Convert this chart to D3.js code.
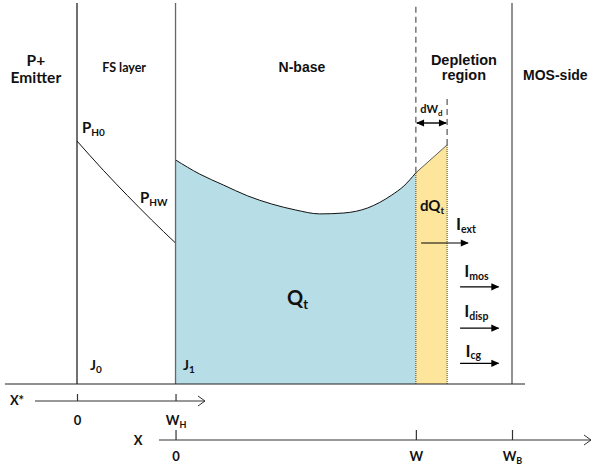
<!DOCTYPE html>
<html>
<head>
<meta charset="utf-8">
<script src="https://cdn.jsdelivr.net/npm/d3@7"></script>
<style>
  body { margin: 0; background: #fff; }
  svg { display: block; }
  text { font-weight: 700; }
</style>
</head>
<body>
<div id="chart"></div>
<script>
// hole density profile (x: position, 0 = J1, 100 = W; p: arbitrary units)
const fsX = [-41, -30, -20, -10, 0];
const fsP = [81, 71.2, 62.8, 54.7, 47];
const baseX = [0, 10, 20, 30, 40, 50, 60, 70, 80, 90, 95, 100];
const baseP = [74.7, 70, 66.3, 62.7, 60, 58, 56.7, 57, 58.7, 63, 66, 70.4];
const depX = [100, 113];
const depP = [70.4, 79.7];

// region boundaries and axis ticks
const bounds = { J0: -41, J1: 0, W: 100, Wd: 113, WB: 140 };
const xTicks = [0, 100, 140];
const xTickLabels = [["0", ""], ["W", ""], ["W", "B"]];
const xsTicks = [0, 41];
const xsTickLabels = [["0", ""], ["W", "H"]];
const currents = ["ext", "mos", "disp", "cg"];

const width = 593, height = 468;
const calibri = "Lato, 'Open Sans', sans-serif";
const arial = "'Liberation Sans', Arial, sans-serif";

const svg = d3.select("#chart").append("svg")
  .attr("width", width)
  .attr("height", height);

const x = d3.scaleLinear().domain([-41, 140]).range([77, 512]);
const y = d3.scaleLinear().domain([0, 100]).range([384, 84]);

const defs = svg.append("defs");
defs.append("marker").attr("id", "solid").attr("viewBox", "0 -5 10 10")
  .attr("refX", 9).attr("refY", 0).attr("markerWidth", 9).attr("markerHeight", 8)
  .attr("markerUnits", "userSpaceOnUse").attr("orient", "auto-start-reverse")
  .append("path").attr("d", "M0,-4.5L10,0L0,4.5Z").attr("fill", "#000");
defs.append("marker").attr("id", "open").attr("viewBox", "0 -6 8 12")
  .attr("refX", 7).attr("refY", 0).attr("markerWidth", 8).attr("markerHeight", 12)
  .attr("markerUnits", "userSpaceOnUse").attr("orient", "auto")
  .append("path").attr("d", "M0,-5L7,0L0,5").attr("fill", "none").attr("stroke", "#333").attr("stroke-width", 1);

// areas
const baseData = baseX.map((d, i) => ({ x: d, p: baseP[i] }));
const fsData = fsX.map((d, i) => ({ x: d, p: fsP[i] }));
const depData = depX.map((d, i) => ({ x: d, p: depP[i] }));

svg.append("path")
  .datum(baseData)
  .attr("fill", "#b7dde7")
  .attr("d", d3.area().x(d => x(d.x)).y0(y(0)).y1(d => y(d.p)).curve(d3.curveMonotoneX));

svg.append("path")
  .datum(depData)
  .attr("fill", "#fee59c")
  .attr("d", d3.area().x(d => x(d.x)).y0(y(0)).y1(d => y(d.p)));

const line = d3.line().x(d => x(d.x)).y(d => y(d.p)).curve(d3.curveMonotoneX);
svg.append("path").datum(baseData).attr("fill", "none").attr("stroke", "#111").attr("stroke-width", 1).attr("d", line);
svg.append("path").datum(fsData).attr("fill", "none").attr("stroke", "#111").attr("stroke-width", 1).attr("d", line);
svg.append("path").datum(depData).attr("fill", "none").attr("stroke", "#333").attr("stroke-width", 0.8).attr("d", d3.line().x(d => x(d.x)).y(d => y(d.p)));

// vertical boundaries
function vline(xv, y1, y2, color, w, dash) {
  svg.append("line")
    .attr("x1", x(xv)).attr("x2", x(xv))
    .attr("y1", y(y1)).attr("y2", y(y2))
    .attr("stroke", color).attr("stroke-width", w)
    .attr("stroke-dasharray", dash);
}
vline(bounds.J0, 0, 127, "#111", 1.2, null);
vline(bounds.J1, 0, 127, "#666", 1.3, null);
vline(bounds.W, baseP[baseP.length - 1], 127, "#555", 1.2, "6,4");
vline(bounds.W, 0, baseP[baseP.length - 1], "#444", 1, "1,1");
vline(bounds.Wd, depP[1], 96, "#555", 1.2, "6,4");
vline(bounds.Wd, 0, depP[1], "#444", 1, "1,1");
vline(bounds.WB, 0, 127, "#777", 1.6, null);

// baseline
svg.append("line")
  .attr("x1", x(-71)).attr("x2", x(145.4))
  .attr("y1", y(0)).attr("y2", y(0))
  .attr("stroke", "#222").attr("stroke-width", 1.2);

// dWd arrow
svg.append("line")
  .attr("x1", x(bounds.W) + 1).attr("x2", x(bounds.Wd) - 1)
  .attr("y1", y(87)).attr("y2", y(87))
  .attr("stroke", "#000").attr("stroke-width", 1.4)
  .attr("marker-start", "url(#solid)").attr("marker-end", "url(#solid)");

// text helper: main text with optional subscript
function label(xv, yv, main, sub, opt) {
  opt = opt || {};
  const t = svg.append("text")
    .attr("x", x(xv)).attr("y", y(yv))
    .attr("text-anchor", opt.anchor || "start")
    .attr("font-family", opt.font || calibri)
    .attr("font-size", opt.size || 14)
    .attr("font-weight", 700)
    .attr("fill", "#111");
  t.append("tspan").text(main);
  if (sub) {
    t.append("tspan").attr("font-size", opt.subSize || 10).attr("dy", opt.subDy || "0.3em").text(sub);
  }
  return t;
}

label(-58.1, 106, "P+", null, { anchor: "middle", size: 15.5 });
label(-58.1, 100.3, "Emitter", null, { anchor: "middle", size: 15.5 });
label(-21.4, 104, "FS layer", null, { anchor: "middle", size: 12.5 });
label(52.6, 104, "N-base", null, { anchor: "middle", size: 14, font: arial });
label(120, 106.3, "Depletion", null, { anchor: "middle", size: 14.5, font: arial });
label(120, 101.3, "region", null, { anchor: "middle", size: 14.5, font: arial });
label(144.6, 101.3, "MOS-side", null, { size: 14, font: arial });

label(-38.9, 83.7, "P", "H0", { size: 15 });
label(-14.8, 60.3, "P", "HW", { size: 15 });
label(46.4, 26.3, "Q", "t", { size: 20, subSize: 13 });
label(101.7, 57.7, "dQ", "t", { size: 15 });
label(106.5, 90.3, "dW", "d", { anchor: "middle", size: 11, subSize: 8 });
label(-35.6, 4.7, "J", "0", { size: 14, subSize: 10 });
label(3.1, 4.7, "J", "1", { size: 14, subSize: 10 });

// current arrows
const curLabelX = [116.7, 120.1, 120.1, 120.6];
const curLabelY = [51.3, 35.7, 22.3, 9.1];
const curArrowY = [47, 32.4, 18.6, 6.9];
const curArrowX0 = [102.2, 118.4, 118.4, 118.4];
const curArrowX1 = [121.7, 134.4, 134.4, 134.4];
currents.forEach((c, i) => {
  svg.append("line")
    .attr("x1", x(curArrowX0[i])).attr("x2", x(curArrowX1[i]))
    .attr("y1", y(curArrowY[i])).attr("y2", y(curArrowY[i]))
    .attr("stroke", "#000").attr("stroke-width", 1.2)
    .attr("marker-end", "url(#solid)");
  label(curLabelX[i], curLabelY[i], "I", c, { size: 17, subSize: 10.5, subDy: "0.25em" });
});

// axes
function subTicks(g, labels) {
  g.selectAll(".tick text").each(function (d, i) {
    const t = d3.select(this).text(null)
      .attr("font-family", calibri).attr("font-size", 13).attr("font-weight", 700).attr("fill", "#111");
    t.append("tspan").text(labels[i][0]);
    if (labels[i][1]) t.append("tspan").attr("font-size", 9).attr("dy", "0.3em").text(labels[i][1]);
  });
  g.selectAll(".tick line").attr("stroke", "#333").attr("stroke-width", 1.2);
}

const xs = d3.scaleLinear().domain([0, 41]).range([x(bounds.J0), x(bounds.J1)]);
const gxs = svg.append("g").attr("transform", "translate(0,401)")
  .call(d3.axisBottom(xs).tickValues(xsTicks).tickSizeInner(-7).tickSizeOuter(0).tickPadding(15).tickFormat(""));
gxs.select(".domain").remove();
subTicks(gxs, xsTickLabels);
gxs.append("line").attr("x1", 35).attr("x2", 205).attr("y1", 0).attr("y2", 0)
  .attr("stroke", "#333").attr("stroke-width", 1.2).attr("marker-end", "url(#open)");
gxs.append("text").attr("x", 17).attr("y", 4).attr("font-family", calibri).attr("font-size", 13)
  .attr("font-weight", 700).attr("fill", "#111").text("X*");

const gx = svg.append("g").attr("transform", "translate(0,440)")
  .call(d3.axisBottom(x).tickValues(xTicks).tickSizeInner(-10).tickSizeOuter(0).tickPadding(12).tickFormat(""));
gx.select(".domain").remove();
subTicks(gx, xTickLabels);
gx.append("line").attr("x1", 159).attr("x2", 591).attr("y1", 0).attr("y2", 0)
  .attr("stroke", "#333").attr("stroke-width", 1.2).attr("marker-end", "url(#open)");
gx.append("text").attr("x", 138).attr("y", 5).attr("font-family", calibri).attr("font-size", 13)
  .attr("font-weight", 700).attr("fill", "#111").text("X");
</script>
</body>
</html>
